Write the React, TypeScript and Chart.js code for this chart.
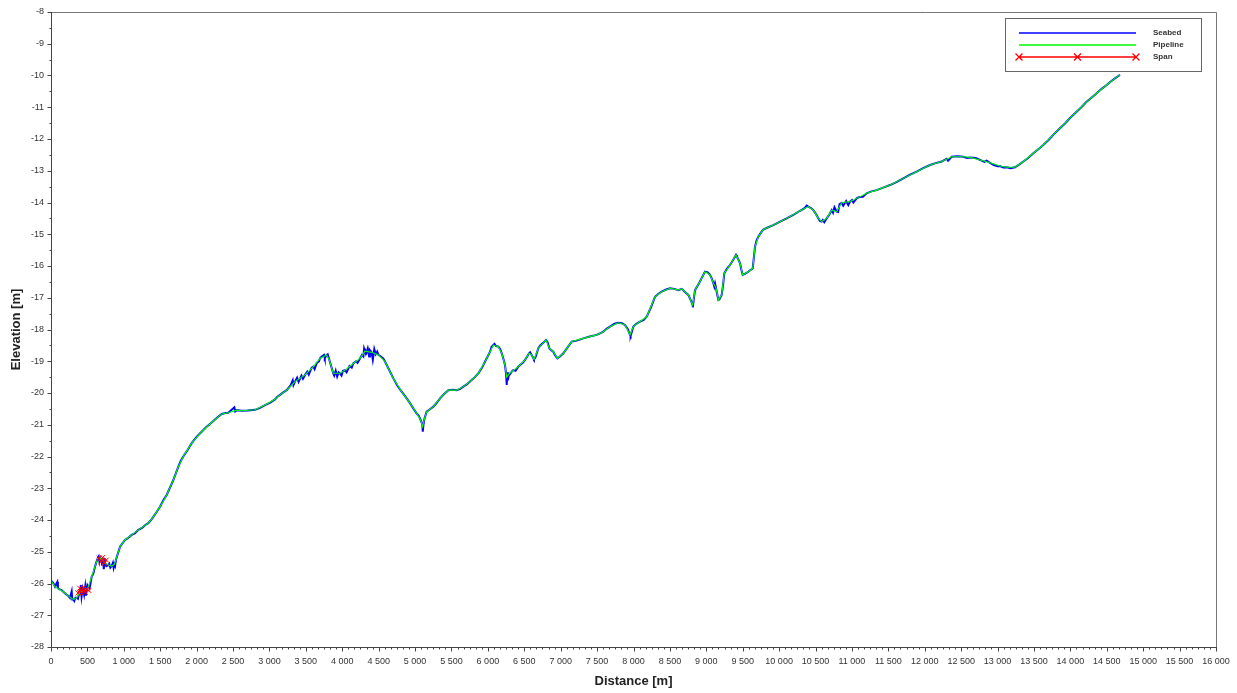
import React, { useEffect, useRef } from 'react';
import { Chart, registerables } from 'chart.js';

Chart.register(...registerables);

// Pipeline route profile: distance along route [m] and elevation [m]
const pipeDist = [
  0, 55, 110, 169, 238, 307, 352, 398, 444, 490, 513, 559, 604, 641, 673, 718, 742, 787, 833, 870,
  893, 948, 1016, 1108, 1200, 1337, 1405, 1497, 1589, 1680, 1749, 1817, 1932, 2069, 2207, 2344, 2435,
  2550, 2619, 2802, 2939, 3076, 3145, 3237, 3351, 3489, 3603, 3694, 3786, 3823, 3877, 3969, 4038, 4152,
  4244, 4312, 4404, 4496, 4587, 4702, 4816, 4930, 5022, 5077, 5104, 5130, 5159, 5251, 5343, 5457, 5572,
  5663, 5755, 5869, 5961, 6030, 6075, 6144, 6190, 6235, 6258, 6290, 6327, 6418, 6510, 6565, 6601, 6633,
  6693, 6798, 6844, 6899, 6954, 7037, 7151, 7311, 7494, 7586, 7677, 7792, 7883, 7952, 7998, 8089, 8181,
  8295, 8387, 8502, 8616, 8662, 8753, 8813, 8845, 8913, 8982, 9051, 9097, 9134, 9166, 9211, 9247, 9325,
  9408, 9463, 9500, 9577, 9637, 9669, 9714, 9783, 9920, 10104, 10287, 10401, 10470, 10539, 10584, 10653,
  10722, 10791, 10859, 10974, 11065, 11202, 11340, 11523, 11706, 11889, 12073, 12233, 12370, 12530,
  12622, 12759, 12897, 13033, 13125, 13239, 13354, 13491, 13628, 13765, 13926, 14086, 14223, 14361,
  14498, 14612, 14681,
];
const pipeElev = [
  -25.91, -26.1, -26.18, -26.26, -26.39, -26.5, -26.45, -26.28, -26.22, -26.2, -26.1, -25.78, -25.47,
  -25.21, -25.2, -25.28, -25.34, -25.42, -25.45, -25.4, -25.24, -24.84, -24.63, -24.47, -24.31, -24.1,
  -23.9, -23.58, -23.21, -22.74, -22.32, -22.0, -21.58, -21.22, -20.93, -20.66, -20.62, -20.54, -20.56,
  -20.53, -20.38, -20.2, -20.06, -19.91, -19.64, -19.43, -19.17, -18.91, -18.8, -18.96, -19.38, -19.38,
  -19.28, -19.07, -18.91, -18.68, -18.72, -18.8, -19.01, -19.54, -19.96, -20.32, -20.64, -20.85, -21.06,
  -20.8, -20.59, -20.43, -20.17, -19.91, -19.91, -19.8, -19.64, -19.38, -19.01, -18.7, -18.49, -18.54,
  -18.75, -19.12, -19.5, -19.4, -19.33, -19.17, -18.96, -18.75, -18.8, -18.94, -18.59, -18.33, -18.59,
  -18.7, -18.91, -18.75, -18.38, -18.28, -18.17, -18.07, -17.91, -17.79, -17.86, -18.17, -17.91, -17.75,
  -17.6, -16.97, -16.81, -16.7, -16.76, -16.72, -16.91, -17.23, -16.76, -16.49, -16.18, -16.28, -16.54,
  -16.7, -17.07, -16.91, -16.23, -15.97, -15.65, -15.91, -16.28, -16.18, -16.08, -15.39, -15.08, -14.85,
  -14.71, -14.5, -14.26, -14.13, -14.24, -14.5, -14.6, -14.5, -14.24, -14.29, -14.01, -13.97, -13.87,
  -13.71, -13.61, -13.45, -13.24, -13.03, -12.82, -12.71, -12.56, -12.56, -12.58, -12.66, -12.75, -12.85,
  -12.89, -12.89, -12.71, -12.45, -12.19, -11.87, -11.51, -11.14, -10.83, -10.56, -10.3, -10.09, -9.98,
];

// Additional surveyed seabed soundings between the pipeline nodes
const bedDist = [
  30, 75, 87, 95, 140, 200, 260, 284, 292, 320, 335, 370, 385, 410, 420, 435, 455, 470, 480, 500, 530,
  580, 620, 655, 665, 690, 700, 725, 735, 760, 800, 815, 850, 860, 880, 1050, 1150, 1250, 1300, 1380,
  1450, 1550, 1630, 1700, 1780, 1880, 2000, 2130, 2280, 2400, 2518, 2530, 2700, 2870, 3010, 3110, 3190,
  3290, 3320, 3330, 3380, 3400, 3440, 3460, 3520, 3540, 3580, 3620, 3650, 3680, 3720, 3750, 3760, 3800,
  3890, 3910, 3930, 3950, 3990, 4010, 4060, 4100, 4130, 4190, 4210, 4270, 4290, 4300, 4330, 4350, 4370,
  4380, 4420, 4440, 4460, 4480, 4530, 4560, 4650, 4760, 4870, 4980, 5050, 5100, 5108, 5115, 5200, 5300,
  5400, 5520, 5620, 5710, 5820, 5920, 5990, 6050, 6090, 6110, 6170, 6210, 6250, 6260, 6265, 6275, 6300,
  6350, 6380, 6450, 6480, 6540, 6580, 6620, 6650, 6720, 6760, 6820, 6870, 6920, 6990, 7090, 7220, 7400,
  7540, 7630, 7740, 7840, 7920, 7960, 8040, 8140, 8240, 8340, 8450, 8560, 8700, 8790, 8815, 8830, 8880,
  8950, 9020, 9075, 9110, 9120, 9150, 9180, 9230, 9280, 9370, 9420, 9440, 9480, 9530, 9610, 9650, 9690,
  9750, 9850, 10000, 10200, 10350, 10380, 10440, 10510, 10560, 10600, 10620, 10690, 10740, 10760, 10810,
  10830, 10880, 10920, 10950, 11000, 11020, 11100, 11150, 11270, 11430, 11610, 11800, 11980, 12150,
  12300, 12320, 12450, 12580, 12700, 12820, 12850, 12950, 13000, 13080, 13180, 13300, 13420, 13560,
  13700, 13850, 14000, 14150, 14290, 14430, 14560, 14650,
];
const bedElev = [
  -25.98, -26.0, -25.95, -26.15, -26.2, -26.32, -26.45, -26.25, -26.5, -26.55, -26.45, -26.48, -26.3,
  -26.05, -26.4, -26.15, -26.35, -26.1, -26.38, -26.05, -26.15, -25.7, -25.35, -25.15, -25.3, -25.22,
  -25.35, -25.55, -25.2, -25.45, -25.38, -25.5, -25.35, -25.5, -25.45, -24.58, -24.42, -24.25, -24.15,
  -23.98, -23.75, -23.35, -23.0, -22.62, -22.15, -21.78, -21.38, -21.08, -20.78, -20.63, -20.45, -20.58,
  -20.55, -20.47, -20.3, -20.12, -19.98, -19.76, -19.6, -19.75, -19.52, -19.65, -19.45, -19.55, -19.33,
  -19.42, -19.2, -19.25, -19.05, -19.0, -18.85, -18.8, -18.9, -18.78, -19.45, -19.3, -19.48, -19.35,
  -19.45, -19.3, -19.35, -19.15, -19.2, -19.0, -19.05, -18.8, -18.85, -18.6, -18.75, -18.6, -18.85,
  -18.65, -18.95, -18.62, -18.78, -18.7, -18.85, -18.9, -19.3, -19.78, -20.12, -20.5, -20.72, -21.0,
  -21.22, -21.0, -20.52, -20.3, -20.03, -19.9, -19.87, -19.73, -19.5, -19.2, -18.88, -18.55, -18.45,
  -18.52, -18.62, -18.9, -19.4, -19.75, -19.35, -19.6, -19.42, -19.28, -19.3, -19.1, -19.05, -18.85,
  -18.72, -18.88, -18.9, -18.5, -18.42, -18.4, -18.65, -18.8, -18.85, -18.58, -18.35, -18.22, -18.12,
  -17.98, -17.82, -17.8, -17.98, -18.2, -17.82, -17.7, -17.3, -16.88, -16.74, -16.72, -16.8, -17.1,
  -17.3, -17.0, -16.62, -16.32, -16.2, -16.4, -16.65, -16.55, -16.9, -17.05, -16.6, -16.1, -15.8, -15.7,
  -15.8, -16.1, -16.25, -16.12, -15.8, -15.2, -14.95, -14.78, -14.62, -14.38, -14.18, -14.1, -14.18,
  -14.38, -14.58, -14.55, -14.62, -14.38, -14.32, -14.15, -14.3, -14.05, -14.1, -13.95, -14.08, -13.92,
  -14.0, -13.83, -13.82, -13.65, -13.53, -13.36, -13.12, -12.92, -12.76, -12.62, -12.68, -12.54, -12.6,
  -12.6, -12.72, -12.68, -12.82, -12.86, -12.9, -12.92, -12.8, -12.6, -12.32, -12.03, -11.68, -11.33,
  -11.0, -10.7, -10.42, -10.18, -10.03,
];

// Free spans detected along the route
const span1Dist = [370, 395, 420, 445, 470, 495, 520];
const span1Elev = [-26.3, -26.15, -26.32, -26.12, -26.28, -26.18, -26.22];
const span2Dist = [660, 685, 710, 735, 760];
const span2Elev = [-25.2, -25.32, -25.18, -25.36, -25.26];

// Axis ranges and graduations
const distRange = [0, 16000];
const distStep = 500;
const distSubdivisions = 6;
const elevRange = [-28, -8];
const elevStep = 1;
const elevSubdivisions = 2;

const seriesNames = ['Seabed', 'Pipeline', 'Span'];
const seriesColors = ['rgb(0,0,255)', 'rgb(0,255,0)', 'rgb(255,0,0)'];

const FONT = '"Liberation Sans", Arial, Helvetica, sans-serif';

const toPoints = (xs: number[], ys: number[]) => xs.map((x, i) => ({ x, y: ys[i] }));

const formatDist = (v: number) => String(v).replace(/\B(?=(\d{3})+(?!\d))/g, ' ');

// Axis lines, frame and major/minor tick marks
const framePlugin = {
  id: 'frameTicks',
  afterDraw(chart: any) {
    const { ctx, chartArea } = chart;
    const { left, right, top, bottom } = chartArea;
    const xs = chart.scales.x;
    const ys = chart.scales.y;
    ctx.save();
    ctx.lineWidth = 1;
    ctx.strokeStyle = '#777';
    ctx.beginPath();
    ctx.moveTo(left + 0.5, top + 0.5);
    ctx.lineTo(right + 0.5, top + 0.5);
    ctx.lineTo(right + 0.5, bottom + 0.5);
    ctx.stroke();
    ctx.strokeStyle = '#444';
    ctx.beginPath();
    ctx.moveTo(left + 0.5, top);
    ctx.lineTo(left + 0.5, bottom + 0.5);
    ctx.lineTo(right + 1, bottom + 0.5);
    const nx = ((distRange[1] - distRange[0]) / distStep) * distSubdivisions;
    for (let i = 0; i <= nx; i++) {
      const v = distRange[0] + (i * distStep) / distSubdivisions;
      const px = Math.round(xs.getPixelForValue(v)) + 0.5;
      const len = i % distSubdivisions === 0 ? 4 : 2;
      ctx.moveTo(px, bottom + 0.5);
      ctx.lineTo(px, bottom + 0.5 + len);
    }
    const ny = ((elevRange[1] - elevRange[0]) / elevStep) * elevSubdivisions;
    for (let i = 0; i <= ny; i++) {
      const v = elevRange[0] + (i * elevStep) / elevSubdivisions;
      const py = Math.round(ys.getPixelForValue(v)) + 0.5;
      const len = i % elevSubdivisions === 0 ? 4 : 2;
      ctx.moveTo(left + 0.5, py);
      ctx.lineTo(left + 0.5 - len, py);
    }
    ctx.stroke();
    ctx.restore();
  },
};

// Boxed legend in the upper right corner
const legendPlugin = {
  id: 'boxLegend',
  afterDraw(chart: any) {
    const { ctx, chartArea } = chart;
    const x0 = chartArea.right - 211;
    const y0 = chartArea.top + 6;
    const w = 196;
    const h = 53;
    ctx.save();
    ctx.fillStyle = '#fff';
    ctx.fillRect(x0, y0, w, h);
    ctx.strokeStyle = '#666';
    ctx.lineWidth = 1;
    ctx.strokeRect(x0 + 0.5, y0 + 0.5, w, h);
    chart.data.datasets.forEach((ds: any, i: number) => {
      const y = y0 + 15 + i * 12;
      const xa = x0 + 14;
      const xb = x0 + 131;
      ctx.strokeStyle = ds.borderColor;
      ctx.lineWidth = 1.3;
      ctx.beginPath();
      ctx.moveTo(xa, y);
      ctx.lineTo(xb, y);
      if (ds.pointStyle === 'crossRot') {
        [xa, (xa + xb) / 2, xb].forEach((cx) => {
          ctx.moveTo(cx - 3.5, y - 3.5);
          ctx.lineTo(cx + 3.5, y + 3.5);
          ctx.moveTo(cx - 3.5, y + 3.5);
          ctx.lineTo(cx + 3.5, y - 3.5);
        });
      }
      ctx.stroke();
      ctx.fillStyle = '#333';
      ctx.font = `bold 8px ${FONT}`;
      ctx.textBaseline = 'middle';
      ctx.textAlign = 'left';
      ctx.fillText(ds.label, x0 + 148, y);
    });
    ctx.restore();
  },
};

export default function App() {
  const canvasRef = useRef<HTMLCanvasElement | null>(null);

  useEffect(() => {
    const canvas = canvasRef.current;
    if (!canvas) return;

    const seabed = toPoints(pipeDist, pipeElev)
      .concat(toPoints(bedDist, bedElev))
      .sort((a, b) => a.x - b.x);
    const pipeline = toPoints(pipeDist, pipeElev);
    const spans = [
      ...toPoints(span1Dist, span1Elev),
      { x: span1Dist[span1Dist.length - 1], y: null as any },
      ...toPoints(span2Dist, span2Elev),
    ];

    const chart = new Chart(canvas, {
      type: 'line',
      data: {
        datasets: [
          {
            label: seriesNames[0],
            data: seabed,
            borderColor: seriesColors[0],
            borderWidth: 2,
            pointRadius: 0,
            order: 3,
          },
          {
            label: seriesNames[1],
            data: pipeline,
            borderColor: seriesColors[1],
            borderWidth: 1.1,
            pointRadius: 0,
            order: 2,
          },
          {
            label: seriesNames[2],
            data: spans,
            borderColor: seriesColors[2],
            backgroundColor: seriesColors[2],
            borderWidth: 1,
            pointStyle: 'crossRot',
            pointRadius: 3.5,
            pointBorderWidth: 1,
            spanGaps: false,
            order: 1,
          },
        ] as any,
      },
      options: {
        animation: false,
        responsive: false,
        devicePixelRatio: 1,
        parsing: false,
        layout: { padding: { top: 12, right: 21, left: 0, bottom: 0 } },
        plugins: { legend: { display: false }, tooltip: { enabled: false } },
        scales: {
          x: {
            type: 'linear',
            min: distRange[0],
            max: distRange[1],
            grid: { display: false, drawTicks: false },
            border: { display: false },
            ticks: {
              stepSize: distStep,
              padding: 9,
              color: '#333',
              font: { family: FONT, size: 9 },
              maxRotation: 0,
              autoSkip: false,
              callback: (v: any) => formatDist(Number(v)),
            },
            title: {
              display: true,
              text: 'Distance [m]',
              color: '#222',
              font: { family: FONT, size: 13, weight: 'bold' },
              padding: { top: 0, bottom: 4 },
            },
            afterFit: (s: any) => {
              s.height = 46;
              s.paddingLeft = 0;
              s.paddingRight = 0;
            },
          },
          y: {
            type: 'linear',
            min: elevRange[0],
            max: elevRange[1],
            grid: { display: false, drawTicks: false },
            border: { display: false },
            ticks: {
              stepSize: elevStep,
              padding: 7,
              color: '#333',
              font: { family: FONT, size: 9 },
              autoSkip: false,
            },
            title: {
              display: true,
              text: 'Elevation [m]',
              color: '#222',
              font: { family: FONT, size: 13, weight: 'bold' },
              padding: { top: 9, bottom: 0 },
            },
            afterFit: (s: any) => {
              s.width = 51;
              s.paddingTop = 0;
              s.paddingBottom = 0;
            },
          },
        },
      } as any,
      plugins: [framePlugin, legendPlugin],
    });

    return () => chart.destroy();
  }, []);

  return (
    <div style={{ position: 'fixed', left: 0, top: 0, width: 1237, height: 693, background: '#fff' }}>
      <canvas ref={canvasRef} width={1237} height={693} style={{ display: 'block' }} />
    </div>
  );
}
